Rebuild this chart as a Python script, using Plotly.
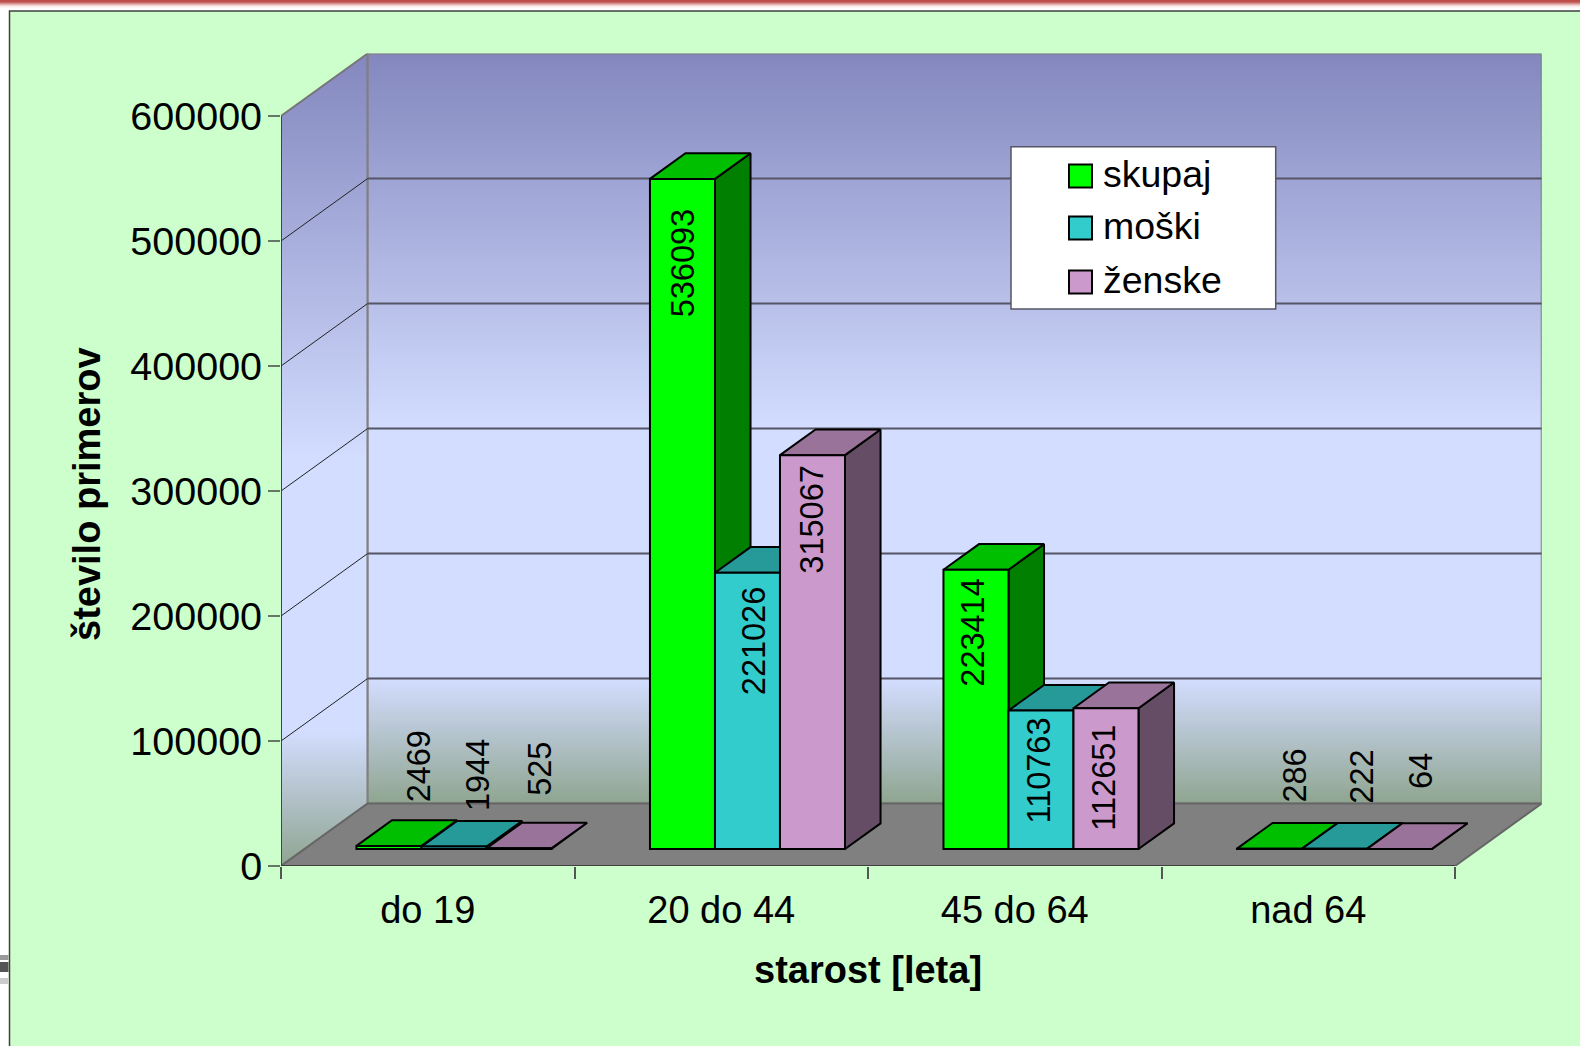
import plotly.graph_objects as go

# Age groups and case counts
categories = ["do 19", "20 do 44", "45 do 64", "nad 64"]
skupaj = [2469, 536093, 223414, 286]
moski = [1944, 221026, 110763, 222]
zenske = [525, 315067, 112651, 64]
series_names = ["skupaj", "moški", "ženske"]
y_ticks = [0, 100000, 200000, 300000, 400000, 500000, 600000]

# Front, top and side shades for each series
front_colors = ["#00FF00", "#33CCCC", "#CC99CC"]
top_colors = ["#00BF00", "#269999", "#997399"]
side_colors = ["#007F00", "#1F7F7F", "#664D66"]

# Page size and plot box in pixels
W, H = 1580, 1046
LEFT, RIGHT, TOP, BOTTOM = 281.0, 1541.7, 53.5, 866.0
FONT = "Liberation Sans"

# Oblique projection: full depth of the box, expressed in axis units
DEPTH_X = 0.2954
DEPTH_Y = 50000
Y_MAX = 600000
BAR_W = 0.2215
BAR_SHIFT = 0.009
BAR_D0 = 0.272
BAR_D1 = 0.682

# Pixel nudges of the value labels: sideways, and downward from the bar top
label_dx = [[29.5, 23.5, 21.5], [0, 6, 0], [-3, -2, -2], [25.5, 27.5, 21.5]]
label_dy = [[-118, -110, -109], [28, 12, 8], [7, 5, 14.5], [-102, -101, -98]]


def px_x(x):
    return x / W


def px_y(y):
    return 1 - y / H


def project(x, v, d):
    return x + d * DEPTH_X, v + d * DEPTH_Y


def polygon(points, fill, color="black", width=2, name=None):
    xs = [p[0] for p in points] + [points[0][0]]
    ys = [p[1] for p in points] + [points[0][1]]
    kw = dict(fillcolor=fill) if isinstance(fill, str) else dict(fillgradient=fill)
    return go.Scatter(x=xs, y=ys, mode="lines", fill="toself", name=name,
                      line=dict(color=color, width=width), cliponaxis=False,
                      hoverinfo="skip", showlegend=False, **kw)


fig = go.Figure()

# Each wall spreads the same vertical gradient over its own height
wall_scale = [[0, "#8387BE"], [0.5, "#D3DDFF"], [0.834, "#D3DDFF"], [1, "#8FA590"]]
side_gradient = dict(type="vertical", start=Y_MAX + DEPTH_Y, stop=0, colorscale=wall_scale)
back_gradient = dict(type="vertical", start=Y_MAX + DEPTH_Y, stop=DEPTH_Y, colorscale=wall_scale)
fig.add_trace(polygon([project(0, 0, 0), project(0, 0, 1), project(0, Y_MAX, 1), project(0, Y_MAX, 0)],
                      side_gradient, color="#777777"))
fig.add_trace(polygon([project(0, 0, 1), project(4, 0, 1), project(4, Y_MAX, 1), project(0, Y_MAX, 1)],
                      back_gradient, color="#808080"))
# Floor
fig.add_trace(polygon([project(0, 0, 0), project(4, 0, 0), project(4, 0, 1), project(0, 0, 1)],
                      "#808080", color="#666666"))

# Gridlines running along the side wall and across the back wall
for tick in y_ticks[1:-1]:
    a, b, c = project(0, tick, 0), project(0, tick, 1), project(4, tick, 1)
    fig.add_trace(go.Scatter(x=[a[0], b[0]], y=[a[1], b[1]], mode="lines", hoverinfo="skip",
                             line=dict(color="#222222", width=1), showlegend=False))
    fig.add_trace(go.Scatter(x=[b[0], c[0]], y=[b[1], c[1]], mode="lines", hoverinfo="skip",
                             line=dict(color="#555566", width=1.8), showlegend=False))

# Outer edge of the side wall and front edge of the floor
fig.add_trace(go.Scatter(x=[0, 0], y=[0, Y_MAX], mode="lines", hoverinfo="skip", cliponaxis=False,
                         line=dict(color="#333344", width=1.5), showlegend=False))
fig.add_trace(go.Scatter(x=[0, 4], y=[0, 0], mode="lines", hoverinfo="skip", cliponaxis=False,
                         line=dict(color="#333333", width=1.5), showlegend=False))

all_series = [skupaj, moski, zenske]


def bar_left(cat, s):
    return cat + 0.5 + (s - 1.5) * BAR_W + BAR_SHIFT


# Tops and sides, painted left to right so nearer neighbours overlap correctly
for cat in range(len(categories)):
    for s, values in enumerate(all_series):
        v = values[cat]
        x0 = bar_left(cat, s)
        x1 = x0 + BAR_W
        fig.add_trace(polygon([project(x1, 0, BAR_D0), project(x1, 0, BAR_D1),
                               project(x1, v, BAR_D1), project(x1, v, BAR_D0)],
                              side_colors[s]))
        fig.add_trace(polygon([project(x0, v, BAR_D0), project(x1, v, BAR_D0),
                               project(x1, v, BAR_D1), project(x0, v, BAR_D1)],
                              top_colors[s]))

# Front faces sit on an overlaid pair of axes, above every top and side
for s, values in enumerate(all_series):
    centres = [bar_left(c, s) + BAR_W / 2 + BAR_D0 * DEPTH_X for c in range(len(categories))]
    fig.add_trace(go.Bar(x=centres, y=values, base=[BAR_D0 * DEPTH_Y] * len(values),
                         width=BAR_W, name=series_names[s], xaxis="x2", yaxis="y2",
                         marker=dict(color=front_colors[s], line=dict(color="black", width=2)),
                         hoverinfo="skip", showlegend=False))

annotations = []
# Value labels, turned to read upward
for cat in range(len(categories)):
    for s, values in enumerate(all_series):
        v = values[cat]
        annotations.append(dict(
            x=bar_left(cat, s) + BAR_W / 2 + BAR_D0 * DEPTH_X, y=v + BAR_D0 * DEPTH_Y,
            xref="x", yref="y", text=str(v), showarrow=False, textangle=-90,
            xanchor="center", yanchor="top", xshift=label_dx[cat][s], yshift=-label_dy[cat][s],
            font=dict(family=FONT, size=32.5, color="black"),
        ))

# Axis titles
annotations.append(dict(x=px_x(868), y=px_y(970), xref="paper", yref="paper", text="<b>starost [leta]</b>",
                        xanchor="center", yanchor="middle", showarrow=False,
                        font=dict(family=FONT, size=38, color="black")))
annotations.append(dict(x=px_x(87), y=px_y(494), xref="paper", yref="paper", text="<b>število primerov</b>",
                        xanchor="center", yanchor="middle", showarrow=False, textangle=-90,
                        font=dict(family=FONT, size=38, color="black")))

# Page furniture: top stripe, panel and small smudge at the left margin
stripe = ["#BE4B48", "#C0504D", "#C66A66", "#D68F8C", "#E6B5B3", "#F2D6D5", "#F9ECEB", "#FDF8F8"]
shapes = []
for i, col in enumerate(stripe):
    shapes.append(dict(type="rect", xref="paper", yref="paper", x0=0, x1=1,
                       y0=px_y(i + 1), y1=px_y(i), fillcolor=col, line_width=0, layer="below"))
shapes.append(dict(type="rect", xref="paper", yref="paper", x0=px_x(9.5), x1=1.01, y0=-0.01, y1=px_y(11),
                   fillcolor="#CCFFCC", line=dict(color="#404040", width=1.5), layer="below"))
for y0, y1, col in [(955, 960, "#999999"), (962, 972, "#555555"), (978, 984, "#CCCCCC")]:
    shapes.append(dict(type="rect", xref="paper", yref="paper", x0=0, x1=px_x(8.5),
                       y0=px_y(y1), y1=px_y(y0), fillcolor=col, line_width=0, layer="below"))

# Legend box with swatches
shapes.append(dict(type="rect", xref="paper", yref="paper", x0=px_x(1011), x1=px_x(1275.7),
                   y0=px_y(309), y1=px_y(146.7), fillcolor="white", line=dict(color="#555566", width=1.5)))
for name, color, yc in zip(series_names, front_colors, [176, 228, 282]):
    shapes.append(dict(type="rect", xref="paper", yref="paper", x0=px_x(1069), x1=px_x(1092),
                       y0=px_y(yc + 11.5), y1=px_y(yc - 11.5), fillcolor=color,
                       line=dict(color="black", width=2)))
    annotations.append(dict(x=px_x(1101), y=px_y(yc - 1.7), xref="paper", yref="paper", text=name,
                            showarrow=False, xanchor="left", yanchor="middle",
                            font=dict(family=FONT, size=37.5, color="black")))

x_domain = [px_x(LEFT), px_x(RIGHT)]
y_domain = [px_y(BOTTOM), px_y(TOP)]
x_range = [0, 4 + DEPTH_X]
y_range = [0, Y_MAX + DEPTH_Y]

fig.update_layout(
    template="none", width=W, height=H, margin=dict(l=0, r=0, t=0, b=0, pad=0),
    paper_bgcolor="white", plot_bgcolor="rgba(0,0,0,0)", showlegend=False,
    barmode="overlay", shapes=shapes, annotations=annotations,
    xaxis=dict(domain=x_domain, range=x_range, showgrid=False, zeroline=False, showline=False,
               automargin=False,
               tickmode="array", tickvals=[i + 0.5 for i in range(len(categories))], ticktext=categories,
               ticks="outside", ticklen=12, tickcolor="rgba(0,0,0,0)", ticklabelstandoff=-2,
               tickfont=dict(family=FONT, size=38, color="black"),
               minor=dict(tickmode="array", tickvals=[0, 1, 2, 3, 4], ticks="outside", ticklen=12,
                          tickcolor="#555555", tickwidth=1.5, showgrid=False)),
    yaxis=dict(domain=y_domain, range=y_range, showgrid=False, zeroline=False, showline=False,
               automargin=False,
               tickmode="array", tickvals=y_ticks, ticks="outside", ticklen=12, tickcolor="#667766",
               tickwidth=1.5, ticklabelstandoff=-2, tickformat="d",
               tickfont=dict(family=FONT, size=39.5, color="black")),
    xaxis2=dict(domain=x_domain, range=x_range, overlaying="x", visible=False, automargin=False),
    yaxis2=dict(domain=y_domain, range=y_range, overlaying="y", visible=False, automargin=False),
)

fig.write_html("out.html")
